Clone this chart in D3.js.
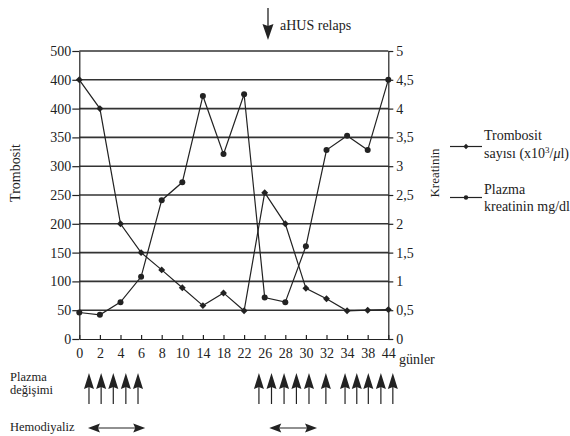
<!DOCTYPE html>
<html>
<head>
<meta charset="utf-8">
<script src="https://cdn.jsdelivr.net/npm/d3@7"></script>
<style>
  body { margin: 0; background: #fff; }
  svg text, svg tspan { font-family: 'Liberation Serif' !important; }
</style>
</head>
<body>
<svg id="chart" width="570" height="436" font-family="Liberation Serif"></svg>
<script>
// days on the x axis (evenly spaced categories)
const days = ["0", "2", "4", "6", "8", "10", "14", "18", "22", "26", "28", "30", "32", "34", "38", "44"];

// trombosit (left axis, x10^3/ul) - diamond markers
const trombosit = [450, 400, 200, 150, 120, 89, 58, 80, 49, 254, 200, 88, 70, 49, 50, 51];
// plazma kreatinin mg/dl (right axis) - dot markers
const kreatinin = [0.46, 0.42, 0.64, 1.08, 2.41, 2.72, 4.22, 3.21, 4.25, 0.72, 0.64, 1.61, 3.28, 3.53, 3.28, 4.5];

// tick labels as printed (the 450 tick reads "400" in the original)
const leftTickVals = [0, 50, 100, 150, 200, 250, 300, 350, 400, 450, 500];
const leftTickLabels = ["0", "50", "100", "150", "200", "250", "300", "350", "400", "400", "500"];
const rightTickVals = [0, 0.5, 1, 1.5, 2, 2.5, 3, 3.5, 4, 4.5, 5];
const rightTickLabels = ["0", "0,5", "1", "1,5", "2", "2,5", "3", "3,5", "4", "4,5", "5"];

// treatment markers, in units of the category index
const plazmaArrows = [0.47, 1.06, 1.65, 2.26, 2.85, 8.72, 9.33, 9.94, 10.54, 11.15, 11.97, 12.9, 13.47, 14.03, 14.64, 15.22];
const hemodiyaliz = [[0.42, 3.2], [9.22, 11.54]];
const relapsIdx = 9.16;

const svg = d3.select("#chart");
const margin = { left: 79.3, right: 181.7, top: 51, bottom: 97 };
const width = 570, height = 436;
const x0 = margin.left, x1 = width - margin.right;
const y0 = height - margin.bottom, y1 = margin.top;

const x = d3.scalePoint().domain(days).range([x0, x1]);
const xIdx = d3.scaleLinear().domain([0, days.length - 1]).range([x0, x1]);
const yL = d3.scaleLinear().domain([0, 500]).range([y0, y1]);
const yR = d3.scaleLinear().domain([0, 5]).range([y0, y1]);

const ink = "#222";
const serif = "Liberation Serif";

// grid lines
svg.append("g")
  .selectAll("line")
  .data(leftTickVals.filter(d => d > 0))
  .enter().append("line")
    .attr("x1", x0).attr("x2", x1)
    .attr("y1", d => yL(d)).attr("y2", d => yL(d))
    .attr("stroke", "#333")
    .attr("stroke-width", 1.6);

function styleAxis(g) {
  g.attr("font-size", 14).attr("font-family", serif);
  g.selectAll("path, line").attr("stroke", ink).attr("stroke-width", 1.2);
  g.selectAll("text").attr("fill", ink);
}

// left axis
svg.append("g")
  .attr("transform", `translate(${x0},0)`)
  .call(d3.axisLeft(yL).tickValues(leftTickVals)
    .tickFormat((d, i) => leftTickLabels[i])
    .tickSizeInner(7).tickSizeOuter(0).tickPadding(1))
  .call(styleAxis);

// right axis
svg.append("g")
  .attr("transform", `translate(${x1},0)`)
  .call(d3.axisRight(yR).tickValues(rightTickVals)
    .tickFormat((d, i) => rightTickLabels[i])
    .tickSizeInner(5).tickSizeOuter(0).tickPadding(3))
  .call(styleAxis);

// bottom axis, ticks point up into the plot
const xAxis = svg.append("g")
  .attr("transform", `translate(0,${y0})`)
  .call(d3.axisBottom(x).tickSizeInner(-4).tickSizeOuter(0).tickPadding(12))
  .call(styleAxis);
xAxis.selectAll("text").attr("dy", "0.5em");

svg.append("text")
  .attr("x", 399).attr("y", 364)
  .attr("font-size", 14)
  .text("günler");

// axis titles
svg.append("text")
  .attr("transform", "translate(20,173) rotate(-90)")
  .attr("text-anchor", "middle")
  .attr("font-size", 14)
  .text("Trombosit");

svg.append("text")
  .attr("transform", "translate(439,173) rotate(-90)")
  .attr("text-anchor", "middle")
  .attr("font-size", 13)
  .text("Kreatinin");

// series lines
const lineL = d3.line().x((d, i) => x(days[i])).y(d => yL(d));
const lineR = d3.line().x((d, i) => x(days[i])).y(d => yR(d));

svg.append("path")
  .datum(trombosit)
  .attr("d", lineL)
  .attr("fill", "none")
  .attr("stroke", ink)
  .attr("stroke-width", 1.2);

svg.append("path")
  .datum(kreatinin)
  .attr("d", lineR)
  .attr("fill", "none")
  .attr("stroke", ink)
  .attr("stroke-width", 1.2);

// square turned 45 degrees, reads as a diamond
const diamond = d3.symbol().type(d3.symbolSquare).size(24);

svg.append("g")
  .selectAll("path")
  .data(trombosit)
  .enter().append("path")
    .attr("d", diamond)
    .attr("transform", (d, i) => `translate(${x(days[i])},${yL(d)}) rotate(45)`)
    .attr("fill", ink);

svg.append("g")
  .selectAll("circle")
  .data(kreatinin)
  .enter().append("circle")
    .attr("cx", (d, i) => x(days[i]))
    .attr("cy", d => yR(d))
    .attr("r", 3)
    .attr("fill", ink);

// legend
const legend = svg.append("g");
legend.append("line").attr("x1", 450).attr("x2", 482).attr("y1", 146.5).attr("y2", 146.5)
  .attr("stroke", ink).attr("stroke-width", 1.2);
legend.append("path").attr("d", d3.symbol().type(d3.symbolSquare).size(14))
  .attr("transform", "translate(466,146.5) rotate(45)").attr("fill", ink);
legend.append("text").attr("x", 484).attr("y", 140).attr("font-size", 14).text("Trombosit");
const t2 = legend.append("text").attr("x", 484).attr("y", 158).attr("font-size", 14);
t2.append("tspan").text("sayısı (x10");
t2.append("tspan").attr("font-size", 9).attr("dy", -5).text("3");
t2.append("tspan").attr("dy", 5).text("/");
t2.append("tspan").attr("font-style", "italic").text("μ");
t2.append("tspan").text("l)");

legend.append("line").attr("x1", 450).attr("x2", 482).attr("y1", 197.5).attr("y2", 197.5)
  .attr("stroke", ink).attr("stroke-width", 1.2);
legend.append("circle").attr("cx", 466).attr("cy", 197.5).attr("r", 2.2).attr("fill", ink);
legend.append("text").attr("x", 484).attr("y", 194).attr("font-size", 14).text("Plazma");
legend.append("text").attr("x", 484).attr("y", 211).attr("font-size", 14).text("kreatinin mg/dl");

// relapse marker
const rx = xIdx(relapsIdx);
svg.append("line").attr("x1", rx).attr("x2", rx).attr("y1", 8).attr("y2", 28)
  .attr("stroke", ink).attr("stroke-width", 1.3);
svg.append("path")
  .attr("d", `M${rx - 5.5},24 L${rx},40 L${rx + 5.5},24 L${rx},26 Z`)
  .attr("fill", ink);
svg.append("text").attr("x", 280).attr("y", 30).attr("font-size", 14).text("aHUS relaps");

// treatment rows
svg.append("text").attr("x", 10).attr("y", 381).attr("font-size", 12.5).text("Plazma");
svg.append("text").attr("x", 10).attr("y", 394).attr("font-size", 12.5).text("değişimi");
svg.append("text").attr("x", 10).attr("y", 431).attr("font-size", 12.5).text("Hemodiyaliz");

const up = svg.append("g")
  .selectAll("g")
  .data(plazmaArrows)
  .enter().append("g")
    .attr("transform", d => `translate(${xIdx(d)},0)`);
up.append("line").attr("x1", 0).attr("x2", 0).attr("y1", 385).attr("y2", 404)
  .attr("stroke", ink).attr("stroke-width", 1.2);
up.append("path")
  .attr("d", "M0,373 L5,389 L0,387 L-5,389 Z")
  .attr("fill", ink);

const hd = svg.append("g")
  .selectAll("g")
  .data(hemodiyaliz)
  .enter().append("g");
hd.append("line")
  .attr("x1", d => xIdx(d[0]) + 8).attr("x2", d => xIdx(d[1]) - 8)
  .attr("y1", 428).attr("y2", 428)
  .attr("stroke", ink).attr("stroke-width", 1.2);
hd.append("path")
  .attr("d", d => {
    const a = xIdx(d[0]), b = xIdx(d[1]);
    return `M${a},428 L${a + 12},423.5 L${a + 10},428 L${a + 12},432.5 Z` +
           `M${b},428 L${b - 12},423.5 L${b - 10},428 L${b - 12},432.5 Z`;
  })
  .attr("fill", ink);

// serif face on every label
svg.selectAll("text")
  .attr("font-family", serif)
  .style("font-family", serif)
  .attr("fill", ink);
</script>
</body>
</html>
